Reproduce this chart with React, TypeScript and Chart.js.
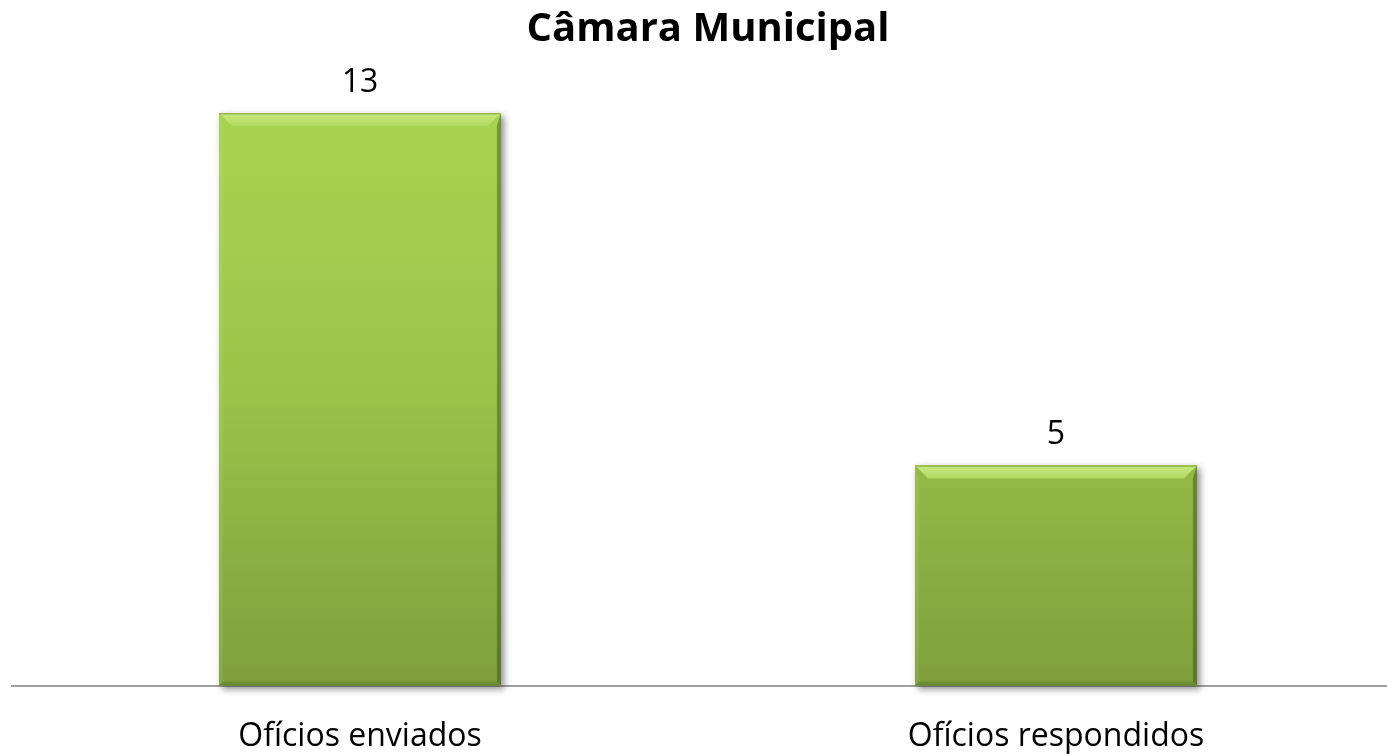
import React, { useEffect, useRef } from 'react';
import { Chart, registerables } from 'chart.js';

Chart.register(...registerables);

const categories: string[] = ['Ofícios enviados', 'Ofícios respondidos'];
const values: number[] = [13, 5];
const chartTitle = 'Câmara Municipal';
const yMax = 14;

const FONT = "'Open Sans', sans-serif";

const barStyle = {
  id: 'barStyle',
  beforeDatasetsDraw(chart: any) {
    const ctx = chart.ctx;
    const meta = chart.getDatasetMeta(0);
    ctx.save();
    meta.data.forEach((bar: any) => {
      const { x, y, base, width } = bar.getProps(['x', 'y', 'base', 'width'], true);
      const l = x - width / 2;
      ctx.shadowColor = 'rgba(0,0,0,0.45)';
      ctx.shadowBlur = 7;
      ctx.shadowOffsetX = 3;
      ctx.shadowOffsetY = 3;
      ctx.fillStyle = '#7b9c3a';
      ctx.fillRect(l, y, width, base - y);
    });
    ctx.restore();
  },
  afterDatasetsDraw(chart: any) {
    const ctx = chart.ctx;
    const meta = chart.getDatasetMeta(0);
    ctx.save();
    meta.data.forEach((bar: any) => {
      const { x, y, base, width } = bar.getProps(['x', 'y', 'base', 'width'], true);
      const l = x - width / 2;
      const r = x + width / 2;
      const b = 13;
      const s = 4;
      // left strip
      ctx.beginPath();
      ctx.moveTo(l, y);
      ctx.lineTo(l + s, y + b);
      ctx.lineTo(l + s, base - s);
      ctx.lineTo(l, base);
      ctx.closePath();
      ctx.fillStyle = 'rgba(255,255,255,0.08)';
      ctx.fill();
      // right strip
      ctx.beginPath();
      ctx.moveTo(r, y);
      ctx.lineTo(r - s, y + b);
      ctx.lineTo(r - s, base - s);
      ctx.lineTo(r, base);
      ctx.closePath();
      ctx.fillStyle = 'rgba(40,60,10,0.4)';
      ctx.fill();
      // bottom strip
      ctx.beginPath();
      ctx.moveTo(l, base);
      ctx.lineTo(l + s, base - s);
      ctx.lineTo(r - s, base - s);
      ctx.lineTo(r, base);
      ctx.closePath();
      ctx.fillStyle = 'rgba(40,60,10,0.2)';
      ctx.fill();
      // top bevel
      const g = ctx.createLinearGradient(0, y, 0, y + b);
      g.addColorStop(0, '#c8e982');
      g.addColorStop(1, '#b2da62');
      ctx.beginPath();
      ctx.moveTo(l, y);
      ctx.lineTo(r, y);
      ctx.lineTo(r - b, y + b);
      ctx.lineTo(l + b, y + b);
      ctx.closePath();
      ctx.fillStyle = g;
      ctx.fill();
      // thin top edge
      ctx.fillStyle = '#93bb45';
      ctx.fillRect(l, y, width, 1.5);
    });
    ctx.restore();
  },
};

const valueLabels = {
  id: 'valueLabels',
  afterDatasetsDraw(chart: any) {
    const ctx = chart.ctx;
    const meta = chart.getDatasetMeta(0);
    ctx.save();
    ctx.font = `32px ${FONT}`;
    ctx.fillStyle = '#000';
    ctx.textAlign = 'center';
    ctx.textBaseline = 'alphabetic';
    meta.data.forEach((bar: any, i: number) => {
      const { x, y } = bar.getProps(['x', 'y'], true);
      ctx.fillText(String(values[i]), x, y - 21);
    });
    ctx.restore();
  },
};

export default function App() {
  const ref = useRef<HTMLCanvasElement | null>(null);

  useEffect(() => {
    if (!ref.current) return;
    const chart = new Chart(ref.current, {
      type: 'bar',
      data: {
        labels: categories,
        datasets: [
          {
            data: values,
            backgroundColor: (c: any) => {
              const area = c.chart.chartArea;
              if (!area) return '#9dc84b';
              const g = c.chart.ctx.createLinearGradient(0, area.top, 0, area.bottom);
              g.addColorStop(0, '#aad552');
              g.addColorStop(0.5, '#9bc54a');
              g.addColorStop(1, '#7e9f3c');
              return g;
            },
            borderWidth: 0,
            barPercentage: 0.405,
            categoryPercentage: 1,
          },
        ],
      },
      options: {
        animation: false,
        responsive: false,
        maintainAspectRatio: false,
        layout: { padding: { left: 12, right: 6, top: 0, bottom: 8 } },
        plugins: {
          legend: { display: false },
          tooltip: { enabled: false },
          title: {
            display: true,
            text: chartTitle,
            color: '#000',
            font: { family: FONT, size: 40, weight: 'bold', lineHeight: 1.2 },
            padding: { top: 6, bottom: 15 },
          },
        },
        scales: {
          x: {
            grid: { display: false },
            border: { display: true, color: '#a0a0a0', width: 2 },
            ticks: {
              color: '#000',
              font: { family: FONT, size: 32, lineHeight: 1.2 },
              padding: 24,
              maxRotation: 0,
            },
          },
          y: {
            display: false,
            min: 0,
            max: yMax,
          },
        },
      },
      plugins: [barStyle, valueLabels],
    });
    return () => chart.destroy();
  }, []);

  return (
    <div
      style={{
        position: 'fixed',
        left: 0,
        top: 0,
        width: 1387,
        height: 756,
        overflow: 'hidden',
        background: '#fff',
      }}
    >
      <canvas ref={ref} width={1410} height={788} style={{ display: 'block', width: 1410, height: 788 }} />
    </div>
  );
}
